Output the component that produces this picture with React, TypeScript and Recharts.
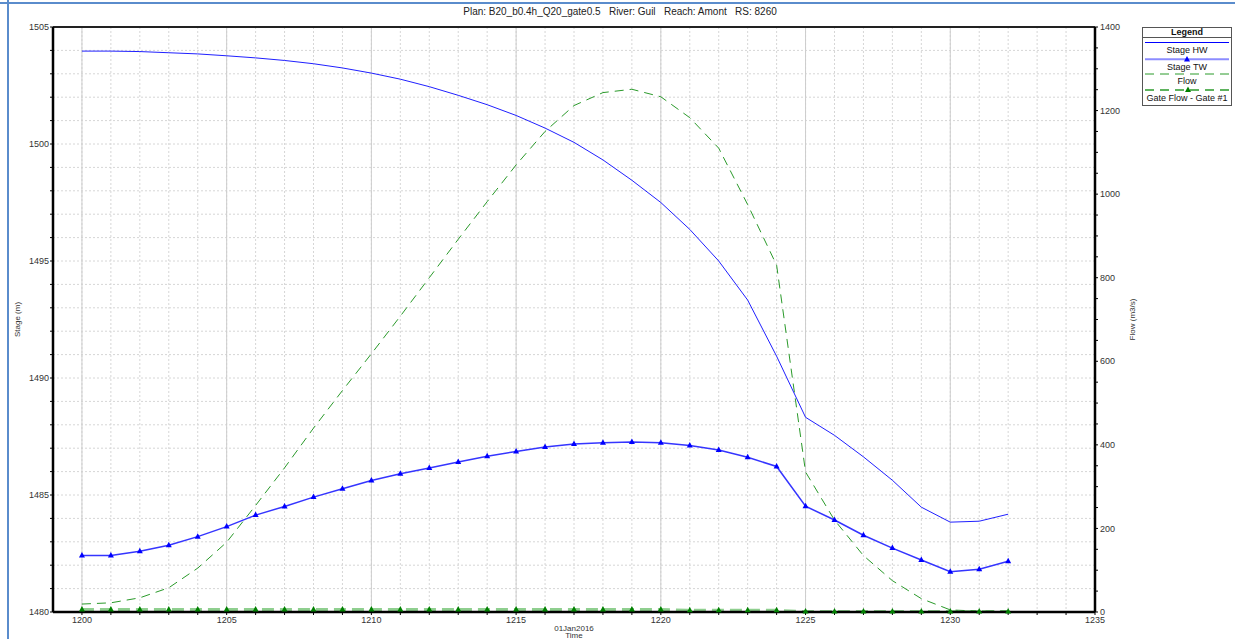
import React from "react";
import { LineChart, Line, XAxis, YAxis, CartesianGrid, ReferenceLine } from "recharts";

// hours on 01Jan2016 (x axis)
const hours = [
  1200, 1201, 1202, 1203, 1204, 1205, 1206, 1207, 1208, 1209, 1210, 1211, 1212, 1213, 1214, 1215, 1216,
  1217, 1218, 1219, 1220, 1221, 1222, 1223, 1224, 1225, 1226, 1227, 1228, 1229, 1230, 1231, 1232,
];

// stage (m), left axis
const stageHW = [
  1503.97, 1503.97, 1503.95, 1503.9, 1503.85, 1503.77, 1503.68, 1503.57, 1503.43, 1503.25, 1503.03, 1502.77,
  1502.45, 1502.08, 1501.68, 1501.22, 1500.68, 1500.07, 1499.32, 1498.45, 1497.5, 1496.35, 1495.0, 1493.33,
  1490.93, 1488.32, 1487.55, 1486.63, 1485.63, 1484.48, 1483.84, 1483.88, 1484.18,
];
const stageTW = [
  1482.41, 1482.41, 1482.6, 1482.85, 1483.22, 1483.65, 1484.14, 1484.51, 1484.91, 1485.27, 1485.62, 1485.91,
  1486.15, 1486.41, 1486.66, 1486.86, 1487.05, 1487.18, 1487.23, 1487.26, 1487.23, 1487.12, 1486.92, 1486.61,
  1486.22, 1484.52, 1483.93, 1483.28, 1482.73, 1482.22, 1481.72, 1481.83, 1482.17,
];

// flow (m3/s), right axis
const flow = [
  19, 22, 34, 58, 105, 167, 255, 345, 440, 530, 618, 708, 800, 892, 982, 1070, 1150, 1212, 1243, 1251, 1233,
  1183, 1110, 975, 830, 335, 220, 135, 75, 32, 5, 2, 2,
];
const gateFlow = [
  6, 6, 6, 6, 6, 6, 6, 6, 6, 6, 6, 6, 6, 6, 6, 6, 6, 6, 6, 6, 6, 4, 4, 4, 4, 1, 1, 1, 1, 1, 1, 1, 1,
];

const xTicks = Array.from({ length: 36 }, (_, i) => 1200 + i);
const xMajorTicks = xTicks.filter((t) => t % 5 === 0);
const stageTicks = Array.from({ length: 26 }, (_, i) => 1480 + i);
const stageMajorTicks = stageTicks.filter((t) => t % 5 === 0);
const flowTicks = Array.from({ length: 29 }, (_, i) => i * 50);

const data = hours.map((h, i) => ({
  hour: h,
  hw: stageHW[i],
  tw: stageTW[i],
  flow: flow[i],
  gate: gateFlow[i],
}));

const FONT = "'Liberation Sans', Arial, sans-serif";

const triangle = (color: string) => (props: any) => {
  const { cx, cy, index } = props;
  if (cx == null || cy == null) return <g key={index} />;
  return (
    <path
      key={index}
      d={`M${cx},${cy - 3.5} L${cx + 3},${cy + 2} L${cx - 3},${cy + 2} Z`}
      fill={color}
    />
  );
};

function LegendBox() {
  const txt = (y: number, s: string, bold = false) => (
    <text x={45} y={y} textAnchor="middle" dominantBaseline="middle" fontSize={9} fontWeight={bold ? "bold" : "normal"} fill="#111" fontFamily={FONT}>
      {s}
    </text>
  );
  return (
    <svg width={91} height={80} style={{ position: "absolute", left: 1142, top: 27 }}>
      <rect x={0.5} y={0.5} width={89} height={78} fill="#fff" stroke="#555" />
      {txt(5.5, "Legend", true)}
      <line x1={0.5} x2={89.5} y1={10.5} y2={10.5} stroke="#555" />
      <line x1={3} x2={87} y1={15.5} y2={15.5} stroke="#0000ff" strokeWidth={1} />
      {txt(23.7, "Stage HW")}
      <line x1={3} x2={87} y1={32.3} y2={32.3} stroke="#8c8cff" strokeWidth={2} />
      <path d="M45,29 L48,34.5 L42,34.5 Z" fill="#0000ff" />
      {txt(40.3, "Stage TW")}
      <line x1={3} x2={87} y1={47} y2={47} stroke="#2a9a2a" strokeWidth={1} strokeDasharray="9 6" />
      {txt(54.7, "Flow")}
      <line x1={3} x2={87} y1={63} y2={63} stroke="#2a9a2a" strokeWidth={1.5} strokeDasharray="9 6" />
      <path d="M46,59.5 L49,65 L43,65 Z" fill="#008000" />
      {txt(71.3, "Gate Flow - Gate #1")}
    </svg>
  );
}

export default function App() {
  const tickStyle = { fontSize: 9, fill: "#333", fontFamily: FONT };
  return (
    <div style={{ position: "fixed", left: 0, top: 0, width: 1235, height: 639, background: "#fff", overflow: "hidden", fontFamily: FONT }}>
      <div style={{ position: "absolute", left: 0, top: 2, width: 1235, height: 2, background: "#5a8ccc" }} />
      <div style={{ position: "absolute", left: 7, top: 0, width: 2, height: 639, background: "#5a8ccc" }} />
      <div style={{ position: "absolute", left: 0, top: 6, width: 1240, textAlign: "center", fontSize: 10, color: "#222", whiteSpace: "pre" }}>
        {"Plan: B20_b0.4h_Q20_gate0.5   River: Guil   Reach: Amont   RS: 8260"}
      </div>
      <LineChart width={1235} height={639} data={data} margin={{ top: 27, right: 100, bottom: 0, left: 0 }}>
        <CartesianGrid xAxisId="main" yAxisId="stage" stroke="#d6d6d6" strokeDasharray="2 2" />
        <CartesianGrid xAxisId="major" yAxisId="stageMajor" stroke="#cdcdcd" />
        <XAxis
          xAxisId="main"
          dataKey="hour"
          type="number"
          domain={[1199, 1235]}
          ticks={xTicks}
          interval={0}
          height={27}
          tickSize={3}
          tickMargin={2}
          tick={tickStyle}
          tickFormatter={(v: number) => (v % 5 === 0 ? String(v) : "")}
          axisLine={{ stroke: "#000", strokeWidth: 2.5 }}
          tickLine={{ stroke: "#000" }}
          label={{
            content: ({ viewBox }: any) => (
              <g>
                <text x={viewBox.x + viewBox.width / 2} y={viewBox.y + 19} textAnchor="middle" fontSize={8} fill="#333" fontFamily={FONT}>
                  01Jan2016
                </text>
                <text x={viewBox.x + viewBox.width / 2} y={viewBox.y + 26} textAnchor="middle" fontSize={8} fill="#333" fontFamily={FONT}>
                  Time
                </text>
              </g>
            ),
          }}
        />
        <XAxis xAxisId="major" dataKey="hour" type="number" domain={[1199, 1235]} ticks={xMajorTicks} interval={0} hide />
        <YAxis
          yAxisId="stage"
          orientation="left"
          type="number"
          domain={[1480, 1505]}
          ticks={stageTicks}
          interval={0}
          width={53}
          tickSize={3}
          tickMargin={1}
          tick={tickStyle}
          tickFormatter={(v: number) => (v % 5 === 0 ? String(v) : "")}
          axisLine={{ stroke: "#000", strokeWidth: 2.5 }}
          tickLine={{ stroke: "#000" }}
          label={{
            content: ({ viewBox }: any) => {
              const x = viewBox.x + 18;
              const y = viewBox.y + viewBox.height / 2;
              return (
                <text x={x} y={y} transform={`rotate(-90 ${x} ${y})`} textAnchor="middle" dominantBaseline="middle" fontSize={8} fill="#333" fontFamily={FONT}>
                  Stage (m)
                </text>
              );
            },
          }}
        />
        <YAxis yAxisId="stageMajor" type="number" domain={[1480, 1505]} ticks={stageMajorTicks} interval={0} hide />
        <YAxis
          yAxisId="flow"
          orientation="right"
          type="number"
          domain={[0, 1400]}
          ticks={flowTicks}
          interval={0}
          width={40}
          tickSize={3}
          tickMargin={2}
          tick={tickStyle}
          tickFormatter={(v: number) => (v % 200 === 0 ? String(v) : "")}
          axisLine={{ stroke: "#000", strokeWidth: 2.5 }}
          tickLine={{ stroke: "#000" }}
          label={{
            content: ({ viewBox }: any) => {
              const x = viewBox.x + 38;
              const y = viewBox.y + viewBox.height / 2;
              return (
                <text x={x} y={y} transform={`rotate(-90 ${x} ${y})`} textAnchor="middle" dominantBaseline="middle" fontSize={8} fill="#333" fontFamily={FONT}>
                  Flow (m3/s)
                </text>
              );
            },
          }}
        />
        <ReferenceLine xAxisId="main" yAxisId="stage" y={1505} stroke="#222" strokeWidth={2} />
        <Line
          xAxisId="main"
          yAxisId="flow"
          dataKey="gate"
          type="linear"
          stroke="#8fcf8f"
          strokeWidth={3}
          strokeDasharray="12 6"
          dot={triangle("#008000")}
          isAnimationActive={false}
        />
        <Line
          xAxisId="main"
          yAxisId="flow"
          dataKey="flow"
          type="linear"
          stroke="#2a9a2a"
          strokeWidth={1}
          strokeDasharray="9 6"
          dot={false}
          isAnimationActive={false}
        />
        <Line xAxisId="main" yAxisId="stage" dataKey="hw" type="linear" stroke="#2020ff" strokeWidth={1} dot={false} isAnimationActive={false} />
        <Line
          xAxisId="main"
          yAxisId="stage"
          dataKey="tw"
          type="linear"
          stroke="#3535ff"
          strokeWidth={1.5}
          dot={triangle("#0000ff")}
          isAnimationActive={false}
        />
      </LineChart>
      <LegendBox />
    </div>
  );
}
